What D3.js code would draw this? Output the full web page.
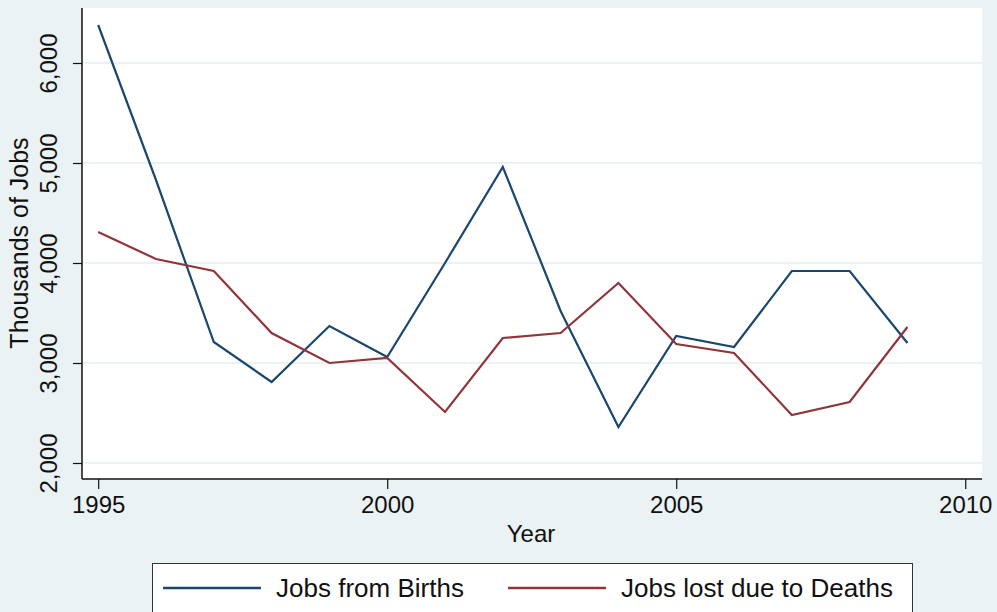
<!DOCTYPE html>
<html>
<head>
<meta charset="utf-8">
<script src="https://cdn.jsdelivr.net/npm/d3@7"></script>
<style>
  body { margin: 0; background: #eaf2f3; }
  svg { display: block; font-family: "Liberation Sans", Arial, sans-serif; }
</style>
</head>
<body>
<svg width="997" height="612"></svg>
<script>
var years = [1995, 1996, 1997, 1998, 1999, 2000, 2001, 2002, 2003, 2004, 2005, 2006, 2007, 2008, 2009];
var births = [6380, 4830, 3210, 2810, 3370, 3060, 4000, 4960, 3520, 2360, 3270, 3160, 3920, 3920, 3200];
var deaths = [4310, 4040, 3920, 3300, 3000, 3050, 2510, 3250, 3300, 3800, 3190, 3100, 2480, 2610, 3360];
var xTicks = [1995, 2000, 2005, 2010];
var yTicks = [2000, 3000, 4000, 5000, 6000];
var seriesNames = ["Jobs from Births", "Jobs lost due to Deaths"];
var seriesColors = ["#1a476f", "#90353b"];

var svg = d3.select("svg"),
    width = +svg.attr("width"),
    height = +svg.attr("height");

var plot = { left: 82, right: 982, top: 8, bottom: 479 };

svg.append("rect")
    .attr("width", width)
    .attr("height", height)
    .attr("fill", "#eaf2f3");

svg.append("rect")
    .attr("x", plot.left)
    .attr("y", plot.top)
    .attr("width", plot.right - plot.left)
    .attr("height", plot.bottom - plot.top)
    .attr("fill", "#ffffff");

var x = d3.scaleLinear()
    .domain([1994.72, 2010.29])
    .range([plot.left, plot.right]);

var y = d3.scaleLinear()
    .domain([1840, 6550])
    .range([plot.bottom, plot.top]);

// grid
svg.append("g")
    .selectAll("line")
    .data(yTicks)
    .enter().append("line")
      .attr("x1", plot.left)
      .attr("x2", plot.right)
      .attr("y1", function(d) { return y(d); })
      .attr("y2", function(d) { return y(d); })
      .attr("stroke", "#eaf2f3")
      .attr("stroke-width", 2);

// axes
var yAxis = svg.append("g")
    .attr("transform", "translate(" + plot.left + ",0)")
    .call(d3.axisLeft(y).tickValues(yTicks).tickSize(9).tickFormat(d3.format(",")));

yAxis.select(".domain")
    .attr("d", "M0," + plot.top + "V" + plot.bottom)
    .attr("stroke", "#111")
    .attr("stroke-width", 1.5);

yAxis.selectAll(".tick line").attr("stroke", "#111").attr("stroke-width", 1.2);
yAxis.selectAll(".tick text")
    .attr("x", null)
    .attr("dy", null)
    .attr("transform", "translate(-25,0) rotate(-90)")
    .attr("text-anchor", "middle")
    .attr("font-size", 24)
    .attr("fill", "#111");

var xAxis = svg.append("g")
    .attr("transform", "translate(0," + plot.bottom + ")")
    .call(d3.axisBottom(x).tickValues(xTicks).tickSize(10).tickFormat(d3.format("d")));

xAxis.select(".domain")
    .attr("d", "M" + plot.left + ",0H" + plot.right)
    .attr("stroke", "#111")
    .attr("stroke-width", 1.5);

xAxis.selectAll(".tick line").attr("stroke", "#111").attr("stroke-width", 1.2);
xAxis.selectAll(".tick text")
    .attr("y", 34)
    .attr("dy", null)
    .attr("font-size", 24)
    .attr("fill", "#111");

// titles
svg.append("text")
    .attr("x", (plot.left + plot.right) / 2 - 1)
    .attr("y", 542)
    .attr("text-anchor", "middle")
    .attr("font-size", 24)
    .attr("fill", "#111")
    .text("Year");

svg.append("text")
    .attr("transform", "translate(28," + 243 + ") rotate(-90)")
    .attr("text-anchor", "middle")
    .attr("font-size", 25)
    .attr("fill", "#111")
    .text("Thousands of Jobs");

// lines
var line = d3.line()
    .x(function(d, i) { return x(years[i]); })
    .y(function(d) { return y(d); });

[births, deaths].forEach(function(s, i) {
  svg.append("path")
      .datum(s)
      .attr("fill", "none")
      .attr("stroke", seriesColors[i])
      .attr("stroke-width", 2.2)
      .attr("stroke-linejoin", "miter")
      .attr("d", line);
});

// legend
var legend = svg.append("g");
legend.append("rect")
    .attr("x", 152.5)
    .attr("y", 563.5)
    .attr("width", 760)
    .attr("height", 60)
    .attr("fill", "#ffffff")
    .attr("stroke", "#333")
    .attr("stroke-width", 1);

var legX = [163, 508];
seriesNames.forEach(function(name, i) {
  legend.append("line")
      .attr("x1", legX[i])
      .attr("x2", legX[i] + 98)
      .attr("y1", 588)
      .attr("y2", 588)
      .attr("stroke", seriesColors[i])
      .attr("stroke-width", 2.5);
  legend.append("text")
      .attr("x", legX[i] + 113)
      .attr("y", 597)
      .attr("font-size", 26)
      .attr("textLength", i === 0 ? 188 : 272)
      .attr("fill", "#111")
      .text(name);
});
</script>
</body>
</html>
